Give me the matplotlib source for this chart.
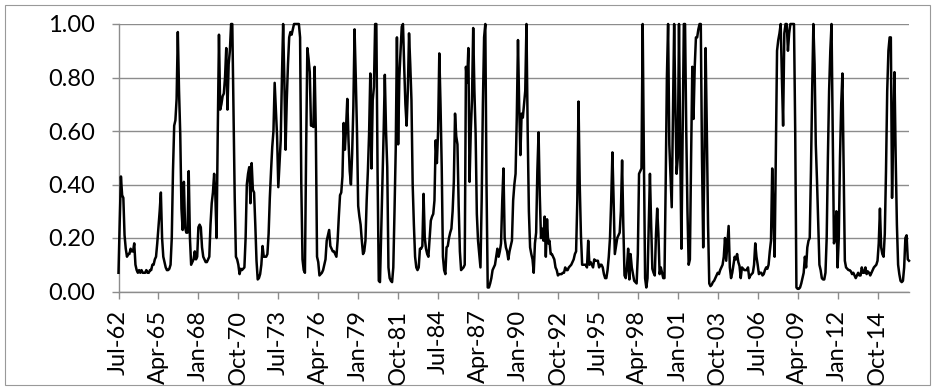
import numpy as np
import matplotlib
matplotlib.use("Agg")
import matplotlib.pyplot as plt
from matplotlib.patches import Rectangle

# monthly values, Jul-62 onwards
seg_1962_1972 = [
    0.07, 0.26, 0.43, 0.36, 0.35, 0.21, 0.16, 0.13, 0.14, 0.14, 0.16, 0.15,
    0.15, 0.18, 0.10, 0.08, 0.07, 0.08, 0.07, 0.08, 0.07, 0.07, 0.07, 0.08, 0.07,
    0.07, 0.08, 0.08, 0.10, 0.10, 0.12, 0.13, 0.18, 0.24, 0.30, 0.37, 0.20,
    0.13, 0.11, 0.09, 0.08, 0.08, 0.085, 0.10, 0.20, 0.45, 0.62, 0.64, 0.72,
    0.97, 0.75, 0.59, 0.31, 0.23, 0.41, 0.24, 0.22, 0.22, 0.45, 0.20, 0.10,
    0.11, 0.12, 0.15, 0.12, 0.13, 0.24, 0.25, 0.24, 0.165, 0.13, 0.12, 0.11,
    0.11, 0.12, 0.13, 0.25, 0.33, 0.37, 0.44, 0.36, 0.20, 0.60, 0.96, 0.68,
    0.70, 0.73, 0.74, 0.80, 0.91, 0.68, 0.85, 0.90, 1.00, 1.00, 0.68, 0.35,
    0.13, 0.12, 0.10, 0.065, 0.085, 0.08, 0.085, 0.09, 0.20, 0.40, 0.44, 0.465,
    0.33, 0.48, 0.38, 0.37, 0.25, 0.115, 0.045, 0.05, 0.065, 0.10, 0.17, 0.13,
]
seg_1972_1982 = [
    0.13, 0.13, 0.14, 0.215, 0.35, 0.45, 0.54, 0.60, 0.78, 0.68, 0.58, 0.39,
    0.48, 0.565, 0.80, 1.00, 0.79, 0.53, 0.715, 0.85, 0.95, 0.97, 0.96, 0.98,
    1.00, 1.00, 1.00, 1.00, 1.00, 0.95, 0.40, 0.12, 0.08, 0.07, 0.53, 0.91,
    0.87, 0.82, 0.62, 0.62, 0.615, 0.84, 0.60, 0.13, 0.11, 0.06, 0.065, 0.07,
    0.08, 0.10, 0.12, 0.19, 0.21, 0.23, 0.17, 0.16, 0.15, 0.15, 0.14, 0.13, 0.19,
    0.28, 0.36, 0.37, 0.43, 0.63, 0.53, 0.615, 0.72, 0.565, 0.45, 0.40, 0.515,
    0.69, 0.98, 0.80, 0.60, 0.32, 0.28, 0.25, 0.19, 0.14, 0.15, 0.19, 0.34,
    0.45, 0.59, 0.815, 0.46, 0.715, 0.765, 1.00, 1.00, 0.45, 0.04, 0.035, 0.22,
    0.40, 0.59, 0.81, 0.60, 0.465, 0.09, 0.05, 0.04, 0.035, 0.09, 0.30, 0.53,
    0.95, 0.55, 0.80, 0.90, 0.99, 1.00, 0.84, 0.70, 0.62, 0.75, 0.965, 0.85,
]
seg_1982_1992 = [
    0.715, 0.40, 0.25, 0.13, 0.09, 0.08, 0.09, 0.16, 0.16, 0.17, 0.365, 0.20,
    0.16, 0.14, 0.13, 0.20, 0.265, 0.28, 0.29, 0.34, 0.565, 0.48, 0.60, 0.89,
    0.70, 0.465, 0.13, 0.08, 0.065, 0.165, 0.17, 0.20, 0.22, 0.235, 0.30, 0.41,
    0.665, 0.58, 0.55, 0.32, 0.15, 0.08, 0.085, 0.09, 0.10, 0.84, 0.78, 0.91,
    0.41, 0.60, 0.715, 0.985, 0.75, 0.59, 0.29, 0.19, 0.14, 0.09, 0.34, 0.70,
    0.95, 1.00, 0.40, 0.015, 0.015, 0.03, 0.05, 0.08, 0.09, 0.10, 0.13, 0.16,
    0.13, 0.15, 0.18, 0.34, 0.46, 0.20, 0.165, 0.15, 0.12, 0.15, 0.17, 0.19,
    0.34, 0.40, 0.44, 0.65, 0.94, 0.69, 0.51, 0.665, 0.65, 0.70, 0.75, 1.00,
    0.60, 0.30, 0.165, 0.14, 0.12, 0.07, 0.18, 0.22, 0.45, 0.595, 0.36, 0.20,
    0.235, 0.19, 0.28, 0.13, 0.27, 0.18, 0.19, 0.14, 0.14, 0.13, 0.12, 0.09,
]
seg_1992_2002 = [
    0.08, 0.06, 0.065, 0.065, 0.065, 0.07, 0.07, 0.09, 0.08, 0.08, 0.09, 0.095, 0.10,
    0.11, 0.12, 0.14, 0.15, 0.34, 0.71, 0.40, 0.21, 0.10, 0.10, 0.10, 0.10,
    0.09, 0.19, 0.10, 0.11, 0.10, 0.09, 0.12, 0.115, 0.115, 0.115, 0.09, 0.10,
    0.10, 0.09, 0.065, 0.05, 0.05, 0.08, 0.13, 0.20, 0.34, 0.52, 0.34, 0.14,
    0.17, 0.20, 0.21, 0.22, 0.30, 0.49, 0.25, 0.06, 0.05, 0.09, 0.16, 0.045,
    0.14, 0.09, 0.065, 0.04, 0.035, 0.03, 0.14, 0.44, 0.45, 0.46, 1.00, 0.50,
    0.05, 0.015, 0.05, 0.25, 0.44, 0.25, 0.085, 0.07, 0.06, 0.215, 0.31, 0.215,
    0.065, 0.09, 0.07, 0.05, 0.05, 0.40, 0.80, 1.00, 0.55, 0.43, 0.315, 0.65,
    1.00, 0.70, 0.44, 0.50, 1.00, 0.55, 0.16, 0.60, 1.00, 1.00, 0.60, 0.30,
    0.10, 0.12, 0.50, 0.84, 0.645, 0.84, 0.95, 0.95, 0.98, 1.00, 1.00, 0.50,
]
seg_2002_2012 = [
    0.165, 0.50, 0.91, 0.60, 0.25, 0.03, 0.02, 0.025, 0.035, 0.04, 0.05, 0.06,
    0.07, 0.065, 0.08, 0.09, 0.10, 0.13, 0.20, 0.115, 0.18, 0.245, 0.09, 0.05,
    0.07, 0.10, 0.13, 0.12, 0.14, 0.11, 0.095, 0.05, 0.09, 0.085, 0.08, 0.08, 0.08,
    0.09, 0.05, 0.06, 0.065, 0.07, 0.10, 0.18, 0.13, 0.10, 0.065, 0.07, 0.07,
    0.06, 0.065, 0.08, 0.09, 0.085, 0.10, 0.15, 0.19, 0.46, 0.28, 0.13, 0.50,
    0.90, 0.94, 0.965, 1.00, 0.80, 0.62, 0.965, 1.00, 1.00, 0.90, 0.965, 1.00,
    1.00, 1.00, 1.00, 0.60, 0.015, 0.01, 0.01, 0.015, 0.03, 0.05, 0.07, 0.13,
    0.09, 0.165, 0.19, 0.20, 0.45, 0.75, 1.00, 0.85, 0.55, 0.415, 0.25, 0.10,
    0.08, 0.05, 0.045, 0.045, 0.07, 0.20, 0.50, 0.75, 0.90, 1.00, 0.60, 0.18,
    0.20, 0.30, 0.09, 0.20, 0.50, 0.70, 0.815, 0.45, 0.115, 0.09, 0.085, 0.08,
]
seg_2012_2016 = [
    0.08, 0.075, 0.065, 0.07, 0.06, 0.05, 0.06, 0.07, 0.06, 0.06, 0.09, 0.07,
    0.07, 0.09, 0.065, 0.075, 0.07, 0.06, 0.07, 0.08, 0.09, 0.095, 0.10, 0.115,
    0.18, 0.31, 0.165, 0.14, 0.13, 0.215, 0.45, 0.75, 0.90, 0.95, 0.95, 0.35,
    0.60, 0.82, 0.50, 0.25, 0.10, 0.065, 0.04, 0.035, 0.04, 0.09, 0.20, 0.21,
    0.12, 0.115,
]

tick_labels = ["Jul-62", "Apr-65", "Jan-68", "Oct-70", "Jul-73", "Apr-76",
               "Jan-79", "Oct-81", "Jul-84", "Apr-87", "Jan-90", "Oct-92",
               "Jul-95", "Apr-98", "Jan-01", "Oct-03", "Jul-06", "Apr-09",
               "Jan-12", "Oct-14"]
tick_step = 33  # months between labels
y_ticks = [0.0, 0.2, 0.4, 0.6, 0.8, 1.0]

values = (seg_1962_1972 + seg_1972_1982 + seg_1982_1992
          + seg_1992_2002 + seg_2002_2012 + seg_2012_2016)
months = np.arange(len(values))

grey = "#8c8c8c"
plt.rcParams["font.family"] = ["Lato", "DejaVu Sans"]

fig = plt.figure(figsize=(9.36, 3.89), dpi=100)
fig.patches.append(Rectangle((5 / 936, 4 / 389), 925 / 936, 380 / 389,
                             transform=fig.transFigure, fill=False,
                             edgecolor="#999999", lw=0.8))
ax = fig.add_axes([118.5 / 936, 97.5 / 389, 790.5 / 936, 267.5 / 389])

ax.plot(months, values, color="black", lw=1.8, clip_on=False,
        solid_joinstyle="round", zorder=3)

ax.set_xlim(0, len(values) - 1)
ax.set_ylim(0, 1)
ax.set_yticks(y_ticks)
ax.set_yticklabels([f"{v:.2f}" for v in y_ticks])
ax.set_xticks(np.arange(len(tick_labels)) * tick_step)
ax.set_xticklabels(tick_labels, rotation=90)

ax.grid(axis="y", color=grey, lw=1.0)
ax.set_axisbelow(True)
for side in ["top", "right"]:
    ax.spines[side].set_visible(False)
for side in ["left", "bottom"]:
    ax.spines[side].set_color(grey)
    ax.spines[side].set_linewidth(1.0)

ax.tick_params(axis="both", colors=grey, length=5, width=1.0,
               labelcolor="black", labelsize=17)
ax.tick_params(axis="y", pad=12)
ax.tick_params(axis="x", pad=8)

fig.savefig("out.png", dpi=100)
